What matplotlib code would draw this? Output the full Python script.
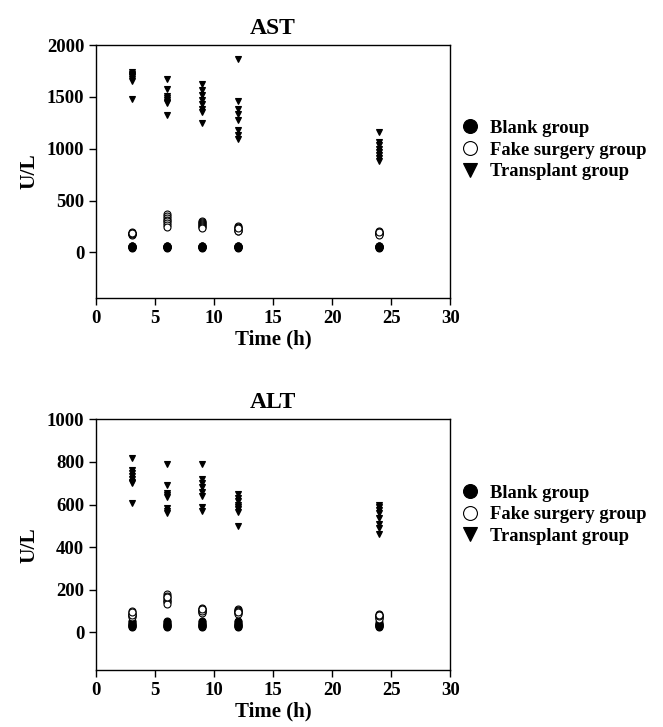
import matplotlib.pyplot as plt
import numpy as np

plt.rcParams['font.family'] = ['Liberation Serif', 'DejaVu Serif']
plt.rcParams['font.weight'] = 'bold'

hours = [3, 6, 9, 12, 24]
groups = ['Blank group', 'Fake surgery group', 'Transplant group']

# AST (U/L), 8 animals per time point
ast_blank = [
    [45, 50, 55, 60, 48, 52, 58, 62],
    [45, 50, 55, 60, 48, 52, 58, 62],
    [45, 50, 55, 60, 48, 52, 58, 62],
    [45, 50, 55, 60, 48, 52, 58, 62],
    [45, 50, 55, 60, 48, 52, 58, 62],
]
ast_fake = [
    [195, 185, 180, 175, 170, 175, 185, 190],
    [370, 350, 330, 310, 300, 280, 260, 250],
    [300, 290, 280, 270, 260, 255, 250, 240],
    [255, 245, 240, 230, 220, 210, 205, 240],
    [205, 200, 190, 185, 180, 175, 170, 195],
]
ast_trans = [
    [1740, 1720, 1710, 1700, 1690, 1670, 1650, 1480],
    [1670, 1580, 1510, 1490, 1470, 1450, 1440, 1325],
    [1620, 1570, 1520, 1470, 1430, 1380, 1350, 1245],
    [1870, 1460, 1380, 1340, 1280, 1180, 1130, 1090],
    [1160, 1070, 1040, 1000, 970, 940, 910, 880],
]

# ALT (U/L)
alt_blank = [
    [25, 30, 35, 40, 45, 50, 28, 38],
    [25, 30, 35, 40, 45, 50, 28, 38],
    [25, 30, 35, 40, 45, 50, 28, 38],
    [25, 30, 35, 40, 45, 50, 28, 38],
    [25, 30, 35, 40, 45, 28, 32, 38],
]
alt_fake = [
    [100, 90, 85, 80, 75, 70, 80, 95],
    [180, 170, 160, 150, 145, 140, 130, 165],
    [115, 110, 105, 100, 95, 90, 100, 110],
    [110, 105, 100, 95, 90, 85, 100, 95],
    [85, 80, 75, 70, 65, 60, 75, 80],
]
alt_trans = [
    [820, 760, 750, 735, 720, 705, 700, 605],
    [790, 690, 655, 645, 635, 585, 570, 560],
    [790, 720, 700, 680, 660, 640, 590, 570],
    [650, 630, 615, 600, 590, 580, 565, 500],
    [600, 590, 575, 560, 535, 510, 490, 460],
]


def draw_panel(ax, title, blank, fake, trans, ylim, yticks, legend_y):
    for data, marker, face, label in [
        (blank, 'o', 'black', groups[0]),
        (fake, 'o', 'white', groups[1]),
        (trans, 'v', 'black', groups[2]),
    ]:
        xs = np.repeat(hours, [len(v) for v in data])
        ys = np.concatenate(data)
        ax.plot(xs, ys, linestyle='none', marker=marker, markersize=5,
                markerfacecolor=face, markeredgecolor='black',
                markeredgewidth=0.8, label=label)
    ax.set_xlim(0, 30)
    ax.set_ylim(*ylim)
    ax.set_xticks([0, 5, 10, 15, 20, 25, 30])
    ax.set_yticks(yticks)
    ax.tick_params(direction='out', length=5, width=1, labelsize=13.5,
                   top=False, right=False)
    for s in ax.spines.values():
        s.set_linewidth(1)
    ax.set_title(title, fontsize=17, fontweight='bold', pad=8)
    ax.set_xlabel('Time (h)', fontsize=15, fontweight='bold', labelpad=2)
    ax.set_ylabel('U/L', fontsize=15.5, fontweight='bold', labelpad=5)
    ax.legend(loc='center left', bbox_to_anchor=(1.01, legend_y),
              frameon=False, fontsize=13.3, markerscale=2.0,
              handlelength=1.0, handletextpad=0.55, labelspacing=0.25,
              borderaxespad=0)


fig = plt.figure(figsize=(6.63, 7.27), dpi=100)
ax1 = fig.add_axes([0.145, 0.590, 0.534, 0.348])
ax2 = fig.add_axes([0.145, 0.078, 0.534, 0.345])

draw_panel(ax1, 'AST', ast_blank, ast_fake, ast_trans,
           (-440, 2000), [0, 500, 1000, 1500, 2000], 0.585)
draw_panel(ax2, 'ALT', alt_blank, alt_fake, alt_trans,
           (-180, 1000), [0, 200, 400, 600, 800, 1000], 0.62)

fig.savefig('out.png', dpi=100)
